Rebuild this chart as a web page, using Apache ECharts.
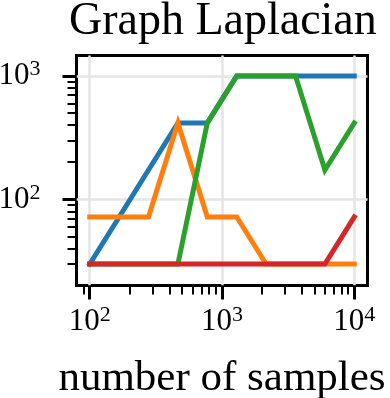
<!DOCTYPE html>
<html>
<head>
<meta charset="utf-8">
<script src="https://cdn.jsdelivr.net/npm/echarts@6/dist/echarts.min.js"></script>
<style>
html, body { margin: 0; padding: 0; background: #fff; }
#chart { width: 390px; height: 398px; }
</style>
</head>
<body>
<div id="chart"></div>
<script>
let samples = [100, 167, 278, 464, 774, 1292, 2154, 3594, 5995, 10000]
let blue = [30, 72, 173, 416, 416, 1000, 1000, 1000, 1000, 1000]
let orange = [72, 72, 72, 416, 72, 72, 30, 30, 30, 30]
let green = [30, 30, 30, 30, 416, 1000, 1000, 1000, 173, 416]
let red = [30, 30, 30, 30, 30, 30, 30, 30, 30, 72]

let xMajor = [100, 1000, 10000]
let xMinor = [90, 200, 300, 400, 500, 600, 700, 800, 900,
  2000, 3000, 4000, 5000, 6000, 7000, 8000, 9000]
let yMajor = [100, 1000]
let yMinor = [30, 40, 50, 60, 70, 80, 90, 200, 300, 400, 500, 600, 700, 800, 900]

let serif = '"Liberation Serif", "DejaVu Serif", serif'

let dom = document.getElementById('chart')
let myChart = echarts.init(dom)

let pow10 = function (v) {
  return '{b|10}{s|' + Math.round(Math.log10(v)) + '}'
}
let powRich = {
  b: { fontSize: 31, fontFamily: serif, color: '#000' },
  s: { fontSize: 22, fontFamily: serif, color: '#000', padding: [0, 0, 13, 0] }
}

let line = function (name, ys, color) {
  return {
    name: name,
    type: 'line',
    data: samples.map((x, i) => [x, ys[i]]),
    symbol: 'none',
    lineStyle: { color: color, width: 5, cap: 'square', join: 'miter' },
    itemStyle: { color: color },
    animation: false
  }
}

let option = {
  title: {
    text: 'Graph Laplacian',
    left: 64,
    top: -6,
    textStyle: { fontFamily: serif, fontWeight: 'normal', fontSize: 46, color: '#000' }
  },
  grid: {
    left: 76.5, right: 22.5, top: 55.5, bottom: 112.5,
    outerBoundsMode: 'none',
    containLabel: false,
    show: true, borderColor: '#000', borderWidth: 3
  },
  xAxis: [{
    type: 'log',
    min: 79.4, max: 12589,
    position: 'bottom',
    axisLine: { show: false, onZero: false },
    axisTick: { customValues: xMajor, length: 14, lineStyle: { color: '#000', width: 3 } },
    axisLabel: { customValues: xMajor, formatter: pow10, rich: powRich, margin: 19 },
    splitLine: { show: true, lineStyle: { color: '#e5e5e5', width: 2.5 } },
    name: 'number of samples',
    nameLocation: 'middle',
    nameGap: 72,
    nameTextStyle: { fontFamily: serif, fontSize: 43, color: '#000' }
  }, {
    type: 'log',
    min: 79.4, max: 12589,
    position: 'bottom',
    axisLine: { show: false, onZero: false },
    axisTick: { customValues: xMinor, length: 9, lineStyle: { color: '#000', width: 2 } },
    axisLabel: { show: false },
    splitLine: { show: false }
  }],
  yAxis: [{
    type: 'log',
    min: 20.1, max: 1462,
    position: 'left',
    axisLine: { show: false, onZero: false },
    axisTick: { customValues: yMajor, length: 14, lineStyle: { color: '#000', width: 3 } },
    axisLabel: { customValues: yMajor, formatter: pow10, rich: powRich, margin: 36 },
    splitLine: { show: true, lineStyle: { color: '#e5e5e5', width: 2.5 } }
  }, {
    type: 'log',
    min: 20.1, max: 1462,
    position: 'left',
    axisLine: { show: false, onZero: false },
    axisTick: { customValues: yMinor, length: 9, lineStyle: { color: '#000', width: 2 } },
    axisLabel: { show: false },
    splitLine: { show: false }
  }],
  series: [
    line('blue', blue, '#1f77b4'),
    line('orange', orange, '#ff7f0e'),
    line('green', green, '#2ca02c'),
    line('red', red, '#d62728')
  ]
}

myChart.setOption(option, true)

window.addEventListener('resize', function () {
  myChart.resize()
})
</script>
</body>
</html>
